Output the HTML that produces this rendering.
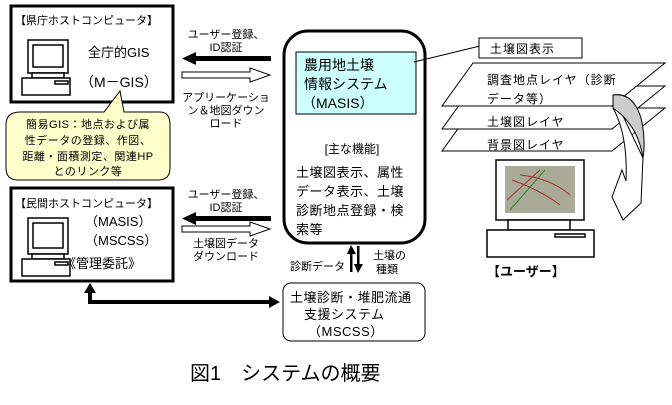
<!DOCTYPE html>
<html><head><meta charset="utf-8"><style>
html,body{margin:0;padding:0;background:#fff;}
svg{display:block;}
text{font-family:"Liberation Sans","Noto Sans CJK JP",sans-serif;fill:#000;}
</style></head><body>
<svg width="672" height="405" viewBox="0 0 672 405" xmlns="http://www.w3.org/2000/svg">
<!-- top-left box -->
<rect x="11" y="6" width="162" height="96" fill="#fff" stroke="#000" stroke-width="3"/>
<text x="15" y="24" font-size="11">【県庁ホストコンピュータ】</text>
<g fill="#fff" stroke="#000" stroke-width="1.5">
<rect x="28" y="40" width="40" height="33"/><rect x="33" y="45" width="30" height="22"/>
<rect x="32" y="73" width="32" height="5"/><rect x="22" y="78" width="48" height="17"/>
<rect x="55" y="81" width="13" height="3"/></g>
<text x="88" y="57" font-size="13">全庁的GIS</text>
<text x="80" y="87" font-size="14">（M－GIS）</text>
<!-- callout -->
<path d="M20,112 L104,112 L120,91 L124,112 L160,112 Q170,112 170,125 L170,168 Q170,180 158,180 L18,180 Q6,180 6,168 L6,125 Q6,112 20,112 Z" fill="#ffffcc" stroke="#000" stroke-width="1"/>
<g font-size="11" text-anchor="middle" letter-spacing="0.5">
<text x="88" y="128">簡易GIS：地点および属</text>
<text x="88" y="144">性データの登録、作図、</text>
<text x="88" y="160">距離・面積測定、関連HP</text>
<text x="88" y="175">とのリンク等</text></g>
<!-- top arrows -->
<g font-size="11" text-anchor="middle">
<text x="226" y="38">ユーザー登録、</text><text x="226" y="51">ID認証</text>
<text x="226" y="101">アプリーケーショ</text><text x="226" y="114">ン＆地図ダウン</text><text x="226" y="127">ロード</text></g>
<rect x="193" y="56" width="78" height="5" fill="#000"/>
<polygon points="182,58.5 196,52 196,65" fill="#000"/>
<polygon points="182,72 250,72 250,68 270,75 250,82 250,78 182,78" fill="#fff" stroke="#000" stroke-width="1"/>
<!-- main box -->
<rect x="284" y="31" width="141" height="212" rx="24" fill="#fff" stroke="#000" stroke-width="3"/>
<rect x="296" y="52" width="120" height="62" fill="#ccffff" stroke="#000" stroke-width="1"/>
<g font-size="14"><text x="304" y="70">農用地土壌</text><text x="304" y="89">情報システム</text><text x="302" y="108">（MASIS）</text></g>
<text x="352" y="153" font-size="12" text-anchor="middle">[主な機能]</text>
<g font-size="13" letter-spacing="0.5"><text x="296" y="177">土壌図表示、属性</text><text x="296" y="196">データ表示、土壌</text><text x="296" y="215">診断地点登録・検</text><text x="296" y="234">索等</text></g>
<!-- label -->
<line x1="414" y1="62" x2="480" y2="46" stroke="#000"/>
<rect x="479" y="38" width="103" height="20" fill="#fff" stroke="#000"/>
<text x="490" y="53" font-size="12" letter-spacing="1">土壌図表示</text>
<!-- layers -->
<g fill="#fff" stroke="#000" stroke-width="1">
<polygon points="473,108 665,108 612,151 442,151"/>
<polygon points="473,86 665,86 612,129 442,129"/>
<polygon points="473,63 665,63 612,106 442,106"/></g>
<g font-size="12" letter-spacing="1"><text x="487" y="84">調査地点レイヤ（診断</text><text x="487" y="103">データ等）</text>
<text x="487" y="126">土壌図レイヤ</text><text x="487" y="149">背景図レイヤ</text></g>
<!-- curved arrow -->
<path d="M643,158 L641,203 L623,220 L612,197 L622,170 L626,181 Q628,135 613,108 L613,95 Z" fill="#fff" stroke="#000" stroke-width="1"/>
<path d="M613,95 Q633,92 641,118 Q646,140 643,158 Q638,125 613,108 Z" fill="#ccc" stroke="#000" stroke-width="1"/>
<!-- user computer -->
<g stroke="#000" stroke-width="1.5" fill="#fff">
<rect x="496" y="160" width="88" height="60"/>
<rect x="508" y="220" width="62" height="10"/>
<rect x="487" y="230" width="107" height="27"/>
<rect x="555" y="234" width="30" height="3"/></g>
<rect x="505" y="166" width="70" height="47" fill="#a9ab98"/>
<path d="M507,200 L540,170 M512,180 Q540,190 560,205 M520,175 Q550,178 570,195" stroke="#a03030" fill="none"/>
<path d="M510,210 L545,170" stroke="#2a8a2a" fill="none"/>
<text x="487" y="276" font-size="13" font-weight="bold">【ユーザー】</text>
<!-- bottom-left box -->
<rect x="11" y="188" width="162" height="93" fill="#fff" stroke="#000" stroke-width="3"/>
<text x="15" y="207" font-size="11">【民間ホストコンピュータ】</text>
<g fill="#fff" stroke="#000" stroke-width="1.5">
<rect x="28" y="218" width="40" height="36"/><rect x="33" y="223" width="30" height="25"/>
<rect x="32" y="254" width="32" height="5"/><rect x="22" y="259" width="48" height="17"/>
<rect x="55" y="262" width="13" height="3"/></g>
<text x="85" y="226" font-size="13">（MASIS）</text>
<text x="85" y="245" font-size="13">（MSCSS）</text>
<text x="63" y="268" font-size="13">《管理委託》</text>
<!-- middle arrows -->
<g font-size="11" text-anchor="middle">
<text x="226" y="198">ユーザー登録、</text><text x="226" y="211">ID認証</text>
<text x="226" y="247">土壌図データ</text><text x="226" y="260">ダウンロード</text></g>
<rect x="193" y="216" width="78" height="5" fill="#000"/>
<polygon points="182,218.5 196,212 196,225" fill="#000"/>
<polygon points="182,226 250,226 250,222 270,229 250,236 250,232 182,232" fill="#fff" stroke="#000" stroke-width="1"/>
<!-- vertical arrows -->
<rect x="350" y="252" width="2.5" height="20" fill="#000"/><polygon points="351,245 347,254 356,254" fill="#000"/>
<rect x="357" y="246" width="2.5" height="20" fill="#000"/><polygon points="358,273 354,264 363,264" fill="#000"/>
<text x="290" y="270" font-size="11">診断データ</text>
<text x="373" y="259" font-size="11">土壌の</text><text x="376" y="273" font-size="11">種類</text>
<!-- MSCSS box -->
<rect x="283" y="283" width="142" height="58" rx="8" fill="#fff" stroke="#000" stroke-width="1"/>
<g font-size="13" letter-spacing="0.5"><text x="290" y="302">土壌診断・堆肥流通</text><text x="304" y="319">支援システム</text><text x="308" y="336">（MSCSS）</text></g>
<!-- thick double arrow -->
<path d="M90,290 L90,302 L270,302" fill="none" stroke="#000" stroke-width="4"/>
<polygon points="90,283 84,293 96,293" fill="#000"/>
<polygon points="280,302 269,296 269,308" fill="#000"/>
<!-- caption -->
<text x="190" y="380" font-size="20" fill="#333">図1　システムの概要</text>
</svg>
</body></html>
